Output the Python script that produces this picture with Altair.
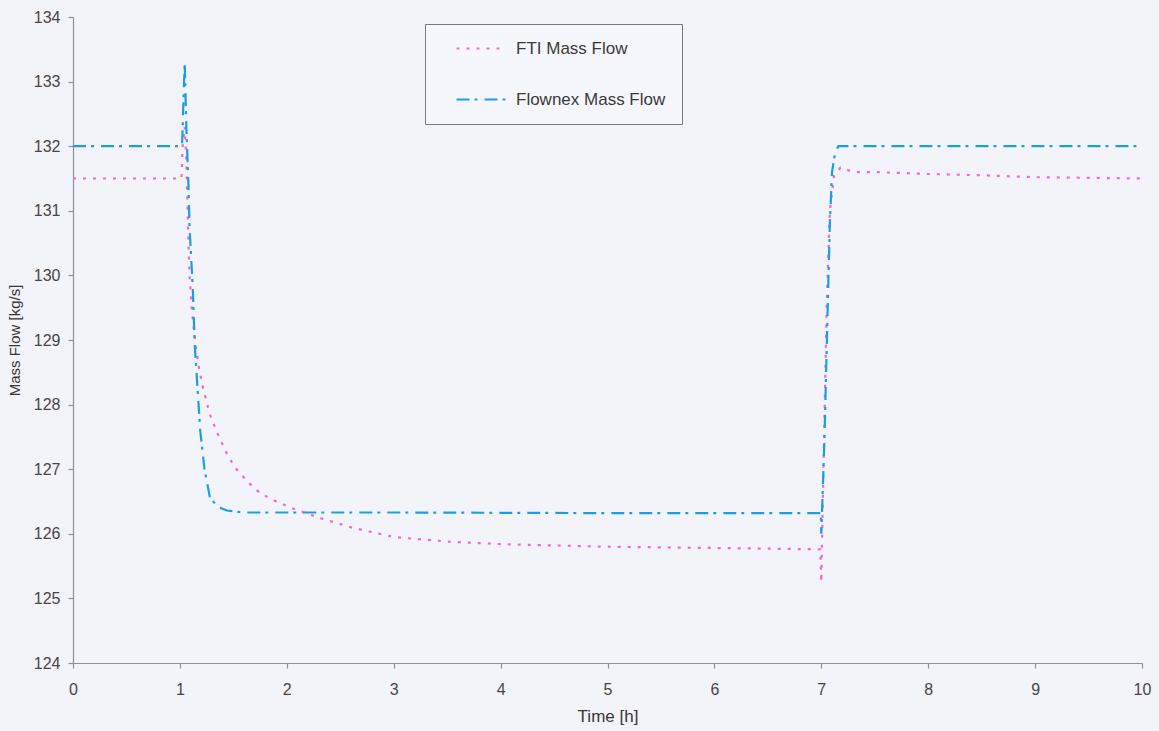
import altair as alt
import pandas as pd

# ---- data ----
series_names = ["FTI Mass Flow", "Flownex Mass Flow"]
series_colors = ["#f06ac4", "#1c9fe2"]
series_dashes = [[3, 7], [13, 5, 3, 7]]

fti_time = [0, 0.5, 1.0, 1.015, 1.025, 1.045, 1.06, 1.075, 1.09, 1.11, 1.14, 1.18,
            1.22, 1.28, 1.35, 1.45, 1.53, 1.65, 1.75, 1.9, 2.09, 2.3, 2.6, 3.0,
            3.5, 4.0, 5.0, 6.0, 6.99, 7.0, 7.02, 7.05, 7.08, 7.12, 7.18, 7.3,
            7.5, 8.0, 8.5, 9.0, 10.0]
fti_flow = [131.5, 131.5, 131.5, 131.5, 132.0, 132.3, 131.8, 130.8, 130.0, 129.5, 129.0, 128.55,
            128.23, 127.85, 127.56, 127.2, 127.0, 126.78, 126.63, 126.5, 126.37, 126.25, 126.1, 125.95,
            125.88, 125.84, 125.8, 125.78, 125.76, 125.25, 127.0, 129.5, 131.0, 131.55, 131.67, 131.6,
            131.6, 131.57, 131.55, 131.52, 131.5]

flownex_time = [0, 0.5, 1.0, 1.02, 1.035, 1.045, 1.06, 1.08, 1.09, 1.12, 1.14, 1.19,
                1.23, 1.28, 1.35, 1.44, 1.6, 3.0, 5.0, 6.995, 7.0, 7.03, 7.06, 7.08,
                7.1, 7.13, 7.16, 8.0, 9.0, 10.0]
flownex_flow = [132.0, 132.0, 132.0, 132.0, 132.8, 133.3, 132.3, 131.4, 130.75, 129.82, 128.9, 127.6,
                127.0, 126.57, 126.42, 126.36, 126.33, 126.33, 126.32, 126.32, 126.0, 127.5, 129.5, 130.8,
                131.6, 131.9, 132.0, 132.0, 132.0, 132.0]

x_ticks = list(range(0, 11))
y_ticks = list(range(124, 135))

df = pd.concat([
    pd.DataFrame({"time": fti_time, "flow": fti_flow, "series": series_names[0]}),
    pd.DataFrame({"time": flownex_time, "flow": flownex_flow, "series": series_names[1]}),
], ignore_index=True)

bg = "#f3f4fa"
font = "Liberation Sans"
label_color = "#4a4444"
axis_color = "#8c8f9c"

legend_common = dict(title=None, orient="none", legendX=352, legendY=7)

chart = alt.Chart(df).mark_line(strokeWidth=2.2).encode(
    x=alt.X("time:Q",
            scale=alt.Scale(domain=[0, 10], nice=False),
            axis=alt.Axis(values=x_ticks, title="Time [h]", grid=False,
                          labelFontSize=16, titleFontSize=17, labelPadding=13,
                          titlePadding=11, tickSize=5, format="d",
                          labelFlush=False, labelOverlap=False)),
    y=alt.Y("flow:Q",
            scale=alt.Scale(domain=[124, 134], nice=False, zero=False),
            axis=alt.Axis(values=y_ticks, title="Mass Flow [kg/s]", grid=False,
                          labelFontSize=16, titleFontSize=15, labelPadding=8,
                          titlePadding=11, tickSize=5, format="d",
                          labelFlush=False, labelOverlap=False)),
    color=alt.Color("series:N",
                    scale=alt.Scale(domain=series_names, range=series_colors),
                    legend=alt.Legend(**legend_common)),
    strokeDash=alt.StrokeDash("series:N",
                              scale=alt.Scale(domain=series_names, range=series_dashes),
                              legend=alt.Legend(**legend_common)),
).properties(
    width=1069,
    height=646,
    autosize=alt.AutoSizeParams(type="none"),
    padding={"left": 73, "top": 17, "right": 17, "bottom": 68},
    background=bg,
).configure_view(
    stroke=None, fill=bg
).configure_axis(
    labelFont=font, titleFont=font, labelColor=label_color, titleColor="#3a3535",
    titleFontWeight="normal", domainColor=axis_color, tickColor=axis_color,
    domainWidth=1.2, tickWidth=1.2
).configure_legend(
    fillColor="#f6f7fc", strokeColor="#7a7a7a", padding=16,
    symbolType="stroke", symbolSize=2500, symbolStrokeWidth=2.2,
    symbolOffset=14, labelOffset=8, rowPadding=33, clipHeight=17,
    labelFont=font, labelFontSize=17, labelColor="#3a3a3a", labelLimit=300
)

chart.save("out.html", embed_options={"renderer": "svg", "actions": False})
